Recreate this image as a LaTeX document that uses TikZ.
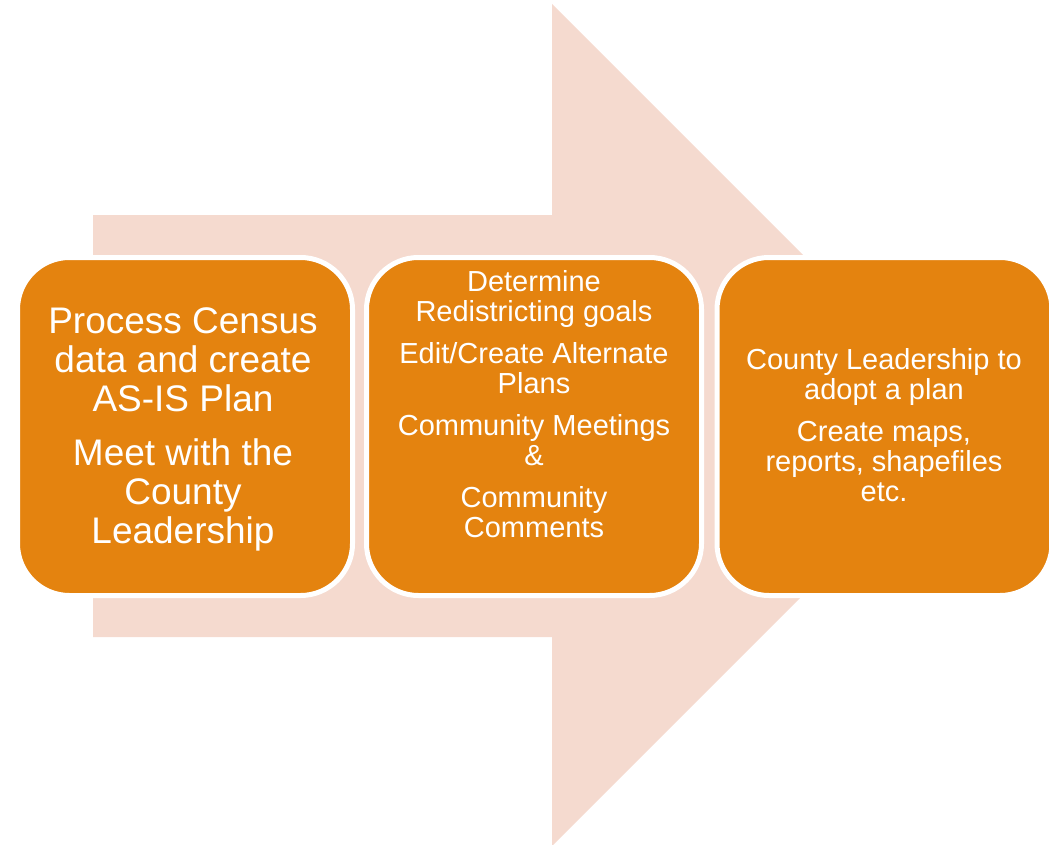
\documentclass[tikz,border=0pt]{standalone}
\usepackage{fontspec}
\setmainfont{Liberation Sans}
\usepackage{tikz}
\usetikzlibrary{positioning}
\definecolor{arrowpink}{HTML}{F5DACF}
\definecolor{steporange}{HTML}{E4830F}

\begin{document}
\begin{tikzpicture}[x=0.75pt,y=-0.75pt,
  stepbox/.style={draw=white,line width=3.75pt,fill=steporange,rounded corners=39pt,
    minimum width=251.25pt,minimum height=253.5pt},
  steptext/.style={text=white,align=center,inner sep=0pt}]
  \useasboundingbox (0,0) rectangle (1049,845);

  % big arrow behind the steps
  \fill[arrowpink] (93,215) -- (552,215) -- (552,4) -- (973,425) -- (552,846) -- (552,637) -- (93,637) -- cycle;

  \node[stepbox] (s1) at (185,426.5) {};
  \node[stepbox] (s2) at (534,426.5) {};
  \node[stepbox] (s3) at (884.5,426.5) {};

  \node[steptext,font=\fontsize{27.75}{29.25}\selectfont] (t1) at (183,429)
    {Process Census\\data and create\\AS-IS Plan\\[11.25pt]Meet with the\\County\\Leadership};
  \node[steptext,font=\fontsize{21.75}{22.5}\selectfont] (t2) at (534,404)
    {Determine\\Redistricting goals\\[9pt]Edit/Create Alternate\\Plans\\[9pt]Community Meetings\\\&\\[9pt]Community\\Comments};
  \node[steptext,font=\fontsize{21.75}{22.5}\selectfont] (t3) at (884,425)
    {County Leadership to\\adopt a plan\\[9pt]Create maps,\\reports, shapefiles\\etc.};
\end{tikzpicture}
\end{document}
